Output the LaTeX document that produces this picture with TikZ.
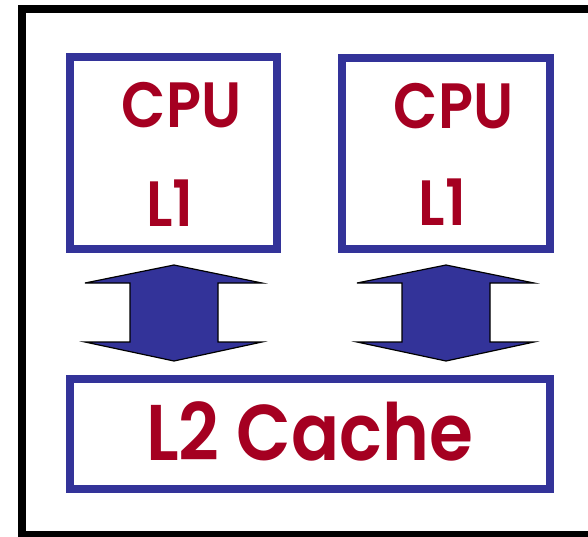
\documentclass[tikz,border=0pt]{standalone}
\usepackage{fontspec}
\setmainfont{Poppins}[BoldFont={Poppins SemiBold}]
\definecolor{boxblue}{RGB}{51,51,153}
\definecolor{labelred}{RGB}{165,0,33}
\newcommand{\narrow}[1]{\scalebox{0.9}[1]{#1}}
\tikzset{
  unit/.style={draw=boxblue, line width=8pt, fill=white, inner sep=0pt},
  lbl/.style={text=labelred, font=\bfseries\fontsize{64}{64}\selectfont, anchor=base, inner sep=0pt},
  biglbl/.style={text=labelred, font=\bfseries\fontsize{79}{79}\selectfont, anchor=base, inner sep=0pt},
  link/.style={fill=boxblue, draw=black, line width=1.2pt, line join=miter}
}
\begin{document}
\begin{tikzpicture}[x=1pt, y=-1pt]
  \useasboundingbox (0,0) rectangle (588,536);
  \clip (0,0) rectangle (588,536);
  % chip outline
  \draw[line width=8pt] (21.5,9) rectangle (620,534.5);
  % processor units
  \node[unit, minimum width=207.5pt, minimum height=191.5pt] (cpuA) at (173.25,152.75) {};
  \node[unit, minimum width=208pt, minimum height=191.5pt] (cpuB) at (445.5,153.25) {};
  \node[unit, minimum width=480.5pt, minimum height=110pt] (l2) at (309.75,434) {};
  % labels
  \node[lbl] (cpuAtxt) at (181.5,127) {\narrow{CPU}};
  \node[lbl] (l1Atxt) at (170,226) {\narrow{L1}};
  \node[lbl] (cpuBtxt) at (453.5,128) {\narrow{CPU}};
  \node[lbl] (l1Btxt) at (442.5,225) {\narrow{L1}};
  \node[biglbl] (l2txt) at (309.5,460) {\narrow{L2 Cache}};
  % bidirectional links between each L1 and the shared L2
  \foreach \c/\n in {174/A, 446/B} {
    \coordinate (lk\n) at (\c,313);
    \draw[link] (\c,265) -- (\c+88,283) -- (\c+44,283) -- (\c+44,342) -- (\c+88,342)
      -- (\c,361) -- (\c-89,342) -- (\c-44,342) -- (\c-44,283) -- (\c-89,283) -- cycle;
  }
\end{tikzpicture}
\end{document}
